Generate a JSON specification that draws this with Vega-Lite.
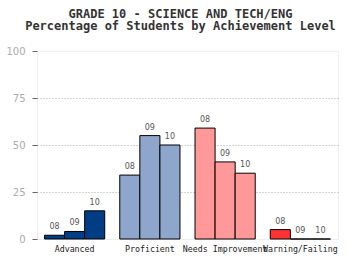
{
  "$schema": "https://vega.github.io/schema/vega-lite/v6.json",
  "autosize": {"type": "none"},
  "width": 301,
  "height": 188,
  "padding": {"left": 37, "top": 51, "right": 22, "bottom": 21},
  "background": "white",
  "title": {
    "text": ["GRADE 10 - SCIENCE AND TECH/ENG", "Percentage of Students by Achievement Level"],
    "font": "DejaVu Sans Mono",
    "fontSize": 12,
    "fontWeight": "bold",
    "color": "#333333",
    "lineHeight": 12.5,
    "anchor": "middle",
    "dx": -7,
    "offset": 13
  },
  "data": {
    "values": [
      {"level": "Advanced", "year": "08", "pct": 2},
      {"level": "Advanced", "year": "09", "pct": 4},
      {"level": "Advanced", "year": "10", "pct": 15},
      {"level": "Proficient", "year": "08", "pct": 34},
      {"level": "Proficient", "year": "09", "pct": 55},
      {"level": "Proficient", "year": "10", "pct": 50},
      {"level": "Needs Improvement", "year": "08", "pct": 59},
      {"level": "Needs Improvement", "year": "09", "pct": 41},
      {"level": "Needs Improvement", "year": "10", "pct": 35},
      {"level": "Warning/Failing", "year": "08", "pct": 5},
      {"level": "Warning/Failing", "year": "09", "pct": 0},
      {"level": "Warning/Failing", "year": "10", "pct": 0}
    ]
  },
  "encoding": {
    "x": {
      "field": "level",
      "type": "nominal",
      "sort": ["Advanced", "Proficient", "Needs Improvement", "Warning/Failing"],
      "scale": {"paddingInner": 0.2, "paddingOuter": 0.1},
      "axis": {
        "title": null,
        "labelAngle": 0,
        "ticks": false,
        "domain": false,
        "labelFont": "DejaVu Sans Mono",
        "labelFontSize": 8.3,
        "labelColor": "#222222",
        "labelPadding": 5,
        "labelOverlap": false,
        "labelLimit": 0
      }
    },
    "xOffset": {"field": "year", "type": "nominal", "scale": {"paddingInner": 0, "paddingOuter": 0}},
    "y": {
      "field": "pct",
      "type": "quantitative",
      "scale": {"domain": [0, 100], "nice": false},
      "axis": {
        "title": null,
        "values": [0, 25, 50, 75, 100],
        "domain": false,
        "tickSize": 5,
        "tickColor": "#666666",
        "labelPadding": 7,
        "labelFont": "DejaVu Sans",
        "labelFontSize": 10,
        "labelColor": "#aaaaaa",
        "grid": true,
        "gridColor": "#aaaaaa",
        "gridDash": [1, 2],
        "gridOpacity": {"condition": {"test": "datum.value === 0 || datum.value === 100", "value": 0}, "value": 1}
      }
    }
  },
  "layer": [
    {
      "mark": {"type": "bar", "stroke": "black", "strokeWidth": 1},
      "encoding": {
        "color": {
          "field": "level",
          "type": "nominal",
          "legend": null,
          "scale": {
            "domain": ["Advanced", "Proficient", "Needs Improvement", "Warning/Failing"],
            "range": ["#003d85", "#8fa6cc", "#ff9999", "#ff3333"]
          }
        }
      }
    },
    {
      "mark": {"type": "text", "baseline": "alphabetic", "dy": -6, "font": "DejaVu Sans", "fontSize": 8, "color": "#555555"},
      "encoding": {"text": {"field": "year"}}
    }
  ],
  "config": {
    "view": {"stroke": "#eeeeee", "strokeWidth": 1}
  }
}
